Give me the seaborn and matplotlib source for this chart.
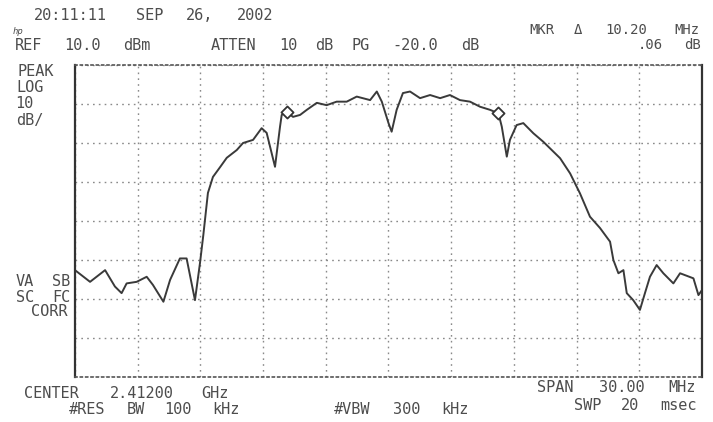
import re
import matplotlib
matplotlib.use("Agg")
import matplotlib.pyplot as plt
import seaborn as sns
import pandas as pd

# Trace (frequency in MHz, level in dBm)
freq_mhz = [2397.00, 2397.72, 2398.44, 2398.91, 2399.23, 2399.47, 2399.95, 2400.43,
            2400.73, 2401.23, 2401.55, 2402.02, 2402.34, 2402.74, 2402.98, 2403.14,
            2403.36, 2403.60, 2403.94, 2404.26, 2404.74, 2405.04, 2405.52, 2405.93,
            2406.17, 2406.57, 2406.81, 2406.89, 2407.13, 2407.43, 2407.77, 2408.09,
            2408.57, 2409.04, 2409.52, 2410.00, 2410.48, 2411.12, 2411.44, 2411.68,
            2412.00, 2412.15, 2412.39, 2412.69, 2413.03, 2413.51, 2413.99, 2414.47,
            2414.94, 2415.42, 2415.90, 2416.38, 2416.86, 2417.26, 2417.42, 2417.66,
            2417.81, 2418.13, 2418.45, 2418.93, 2419.41, 2420.21, 2420.69, 2421.16,
            2421.64, 2422.12, 2422.60, 2422.76, 2423.00, 2423.24, 2423.40, 2423.71,
            2424.03, 2424.27, 2424.51, 2424.83, 2425.15, 2425.63, 2425.95, 2426.59,
            2426.83, 2427.00]
level_dbm = [-42.6, -45.6, -42.6, -46.8, -48.5, -46.0, -45.6, -44.3,
             -46.4, -50.7, -45.1, -39.6, -39.6, -50.3, -40.8, -33.6,
             -22.8, -18.7, -16.2, -13.8, -11.8, -10.0, -9.2, -6.2,
             -7.4, -16.1, -5.8, -2.8, -2.0, -3.3, -2.8, -1.5,
             0.3, -0.3, 0.6, 0.6, 1.9, 1.0, 3.2, 0.6,
             -4.9, -7.1, -1.5, 2.8, 3.2, 1.5, 2.3, 1.5,
             2.3, 1.0, 0.6, -0.7, -1.5, -2.4, -5.8, -13.5,
             -9.2, -5.4, -4.9, -7.5, -9.7, -13.9, -17.8, -22.9,
             -28.9, -31.8, -35.3, -40.0, -43.4, -42.6, -48.5, -50.3,
             -52.8, -48.5, -44.3, -41.3, -43.4, -46.0, -43.4, -44.7,
             -49.0, -47.7]

# Delta marker pair
marker_freq = [2407.13, 2417.26]
marker_level = [-2.0, -2.4]

center_mhz = 2412.0
span_mhz = 30.0
ref_dbm = 10.0
db_per_div = 10
n_vdiv = 8

W, H = 713, 422
INK = "#4d4d4d"
FONT = "DejaVu Sans Mono"

sns.set_style("white")
fig = plt.figure(figsize=(W / 100, H / 100), dpi=100)
ax = fig.add_axes([75 / W, 1 - 377 / H, 627 / W, 312 / H])

df = pd.DataFrame({"freq": freq_mhz, "level": level_dbm})
sns.lineplot(data=df, x="freq", y="level", ax=ax, color="#3a3a3a",
             linewidth=1.4, estimator=None, sort=False)
sns.scatterplot(x=marker_freq, y=marker_level, ax=ax, marker="D", s=38,
                facecolor="white", edgecolor="#333333", linewidth=1.3, zorder=5)

f0 = center_mhz - span_mhz / 2
ax.set_xlim(f0, f0 + span_mhz)
ax.set_ylim(ref_dbm - n_vdiv * db_per_div, ref_dbm)
ax.set_xticks([f0 + span_mhz / 10 * k for k in range(11)])
ax.set_yticks([ref_dbm - db_per_div * k for k in range(n_vdiv + 1)])
ax.set_xticklabels([])
ax.set_yticklabels([])
ax.tick_params(length=0)
ax.set_xlabel("")
ax.set_ylabel("")
ax.grid(True, color="#8a8a8a", linestyle=(0, (1.2, 3)), linewidth=1.0)

for side in ["left", "right"]:
    ax.spines[side].set_color("#333333")
    ax.spines[side].set_linewidth(1.6)
for side in ["top", "bottom"]:
    ax.spines[side].set_color("#555555")
    ax.spines[side].set_linestyle((0, (1.2, 2)))
    ax.spines[side].set_linewidth(1.2)


def term(x0, y, s, pitch=12.1, size=11, right=False):
    # centre each word on the screen's fixed character grid
    if right:
        x0 = x0 - len(s) * pitch
    for m in re.finditer(r"\S+", s):
        xc = x0 + (m.start() + len(m.group()) / 2) * pitch
        fig.text(xc / W, 1 - y / H, m.group(),
                 ha="center", va="center", fontsize=size, family=FONT, color=INK)


term(21, 15, "20:11:11 SEP 26, 2002", pitch=12.3)
fig.text(13 / W, 1 - 31 / H, "hp", fontsize=6.5, style="italic", family=FONT,
         color=INK, ha="left", va="center")
term(10, 45, "REF 10.0 dBm    ATTEN 10 dB PG -20.0 dB")
term(705, 30, "MKR \u0394 10.20 MHz", right=True, size=10)
term(705, 45, ".06 dB", right=True, size=10)

term(12, 71, "PEAK")
term(12, 88, "LOG")
term(12, 104, "10")
term(12, 121, "dB/")

term(13, 282, "VA SB", pitch=12)
term(13, 297, "SC FC", pitch=12)
term(25, 311, "CORR", pitch=12)

term(15, 393, "CENTER 2.41200 GHz")
term(63, 410, "#RES BW 100 kHz")
term(328, 410, "#VBW 300 kHz")
term(700, 388, "SPAN 30.00 MHz", right=True)
term(703, 405, "SWP 20 msec", right=True)

fig.savefig("out.png", dpi=100, facecolor="white")
